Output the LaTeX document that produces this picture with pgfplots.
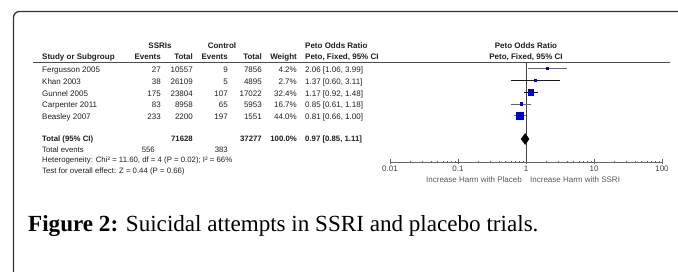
\documentclass[border=0pt]{standalone}
\usepackage{pgfplots}
\pgfplotsset{compat=1.18}
\usepackage{fontspec}
\newfontfamily\arial{Liberation Sans}
\newfontfamily\capserif{Liberation Serif}
\definecolor{sqblue}{RGB}{0,0,205}
\definecolor{txt}{RGB}{30,30,30}
\newcommand\fa{\arial\fontsize{8}{9}\selectfont}
\newcommand\fb{\arial\fontsize{7.8}{8.8}\selectfont}
\newcommand\fc{\arial\fontsize{8}{9}\selectfont}
\begin{document}
\begin{tikzpicture}[x=1pt,y=1pt]
\useasboundingbox (0,0) rectangle (678,-272);
\clip (0,0) rectangle (678,-272);
% frame
\draw[line width=1.3pt, black!80, rounded corners=6pt] (13.5,-290) -- (13.5,-11.5) -- (700,-11.5);
% header underline
\draw[black!70, line width=0.8pt] (33,-62.3) -- (670,-62.3);
% headers
\begin{scope}[every node/.style={inner sep=0pt, text=txt}]
\node[anchor=base, font=\fa\bfseries] at (160,-48.5) {SSRIs};
\node[anchor=base, font=\fa\bfseries] at (222,-48.5) {Control};
\node[anchor=base west, font=\fa\bfseries] at (305,-48.5) {Peto Odds Ratio};
\node[anchor=base, font=\fa\bfseries] at (526,-48.5) {Peto Odds Ratio};
\node[anchor=base west, font=\fa\bfseries] at (42,-60) {Study or Subgroup};
\node[anchor=base east, font=\fa\bfseries] at (161,-60) {Events};
\node[anchor=base east, font=\fa\bfseries] at (193,-60) {Total};
\node[anchor=base east, font=\fa\bfseries] at (228,-60) {Events};
\node[anchor=base east, font=\fa\bfseries] at (262,-60) {Total};
\node[anchor=base east, font=\fa\bfseries] at (297,-60) {Weight};
\node[anchor=base west, font=\fa\bfseries] at (305,-60) {Peto, Fixed, 95\% CI};
\node[anchor=base, font=\fa\bfseries] at (526,-60) {Peto, Fixed, 95\% CI};
% rows
\foreach \yy/\nm/\ea/\ta/\eb/\tb/\w/\ci in {
 72.8/Fergusson 2005/27/10557/9/7856/4.2\%/{2.06 [1.06, 3.99]},
 84.5/Khan 2003/38/26109/5/4895/2.7\%/{1.37 [0.60, 3.11]},
 96.2/Gunnel 2005/175/23804/107/17022/32.4\%/{1.17 [0.92, 1.48]},
 107.9/Carpenter 2011/83/8958/65/5953/16.7\%/{0.85 [0.61, 1.18]},
 119.6/Beasley 2007/233/2200/197/1551/44.0\%/{0.81 [0.66, 1.00]}}{
 \node[anchor=base west, font=\fa] at (42,-\yy) {\nm};
 \node[anchor=base east, font=\fa] at (161,-\yy) {\ea};
 \node[anchor=base east, font=\fa] at (193,-\yy) {\ta};
 \node[anchor=base east, font=\fa] at (228,-\yy) {\eb};
 \node[anchor=base east, font=\fa] at (262,-\yy) {\tb};
 \node[anchor=base east, font=\fa] at (297,-\yy) {\w};
 \node[anchor=base west, font=\fa] at (305,-\yy) {\ci};
}
\node[anchor=base west, font=\fb\bfseries] at (42,-142) {Total (95\% CI)};
\node[anchor=base east, font=\fb\bfseries] at (193,-142) {71628};
\node[anchor=base east, font=\fb\bfseries] at (262,-142) {37277};
\node[anchor=base east, font=\fb\bfseries] at (297,-142) {100.0\%};
\node[anchor=base west, font=\fb\bfseries] at (305,-142) {0.97 [0.85, 1.11]};
\node[anchor=base west, font=\fb] at (42,-152.5) {Total events};
\node[anchor=base east, font=\fb] at (155,-152.5) {556};
\node[anchor=base east, font=\fb] at (228,-152.5) {383};
\node[anchor=base west, font=\fb] at (42,-163) {Heterogeneity: Chi² = 11.60, df = 4 (P = 0.02); I² = 66\%};
\node[anchor=base west, font=\fb] at (42,-173.5) {Test for overall effect: Z = 0.44 (P = 0.66)};
\node[anchor=base east, font=\fc, text=black!65] at (522,-182.5) {Increase Harm with Placeb};
\node[anchor=base west, font=\fc, text=black!65] at (530,-182.5) {Increase Harm with SSRI};
% caption
\node[anchor=base west, font=\capserif\fontsize{23.1}{26}\selectfont, text=black] at (28,-232) {\textbf{Figure 2:} Suicidal attempts in SSRI and placebo trials.};
\end{scope}
\begin{axis}[
  at={(390pt,-162pt)}, anchor=south west,
  scale only axis, width=272pt, height=100pt,
  xmode=log, xmin=0.01, xmax=100, ymin=-162, ymax=-62,
  axis x line=bottom, axis y line=none,
  axis line style={-, black!60, line width=0.7pt},
  xtick={0.01,0.1,1,10,100}, xticklabels={0.01,0.1,1,10,100},
  minor xtick={},
  major tick length=5pt, tick align=center,
  tick style={black!60, line width=0.7pt},
  xticklabel style={font=\fc, text=black!75, inner sep=1pt},
  clip=false,
]
\addplot[black!75, line width=0.8pt] coordinates {(1,-62.3) (1,-162)};
% confidence intervals
\addplot[black!60, line width=0.7pt] coordinates {(1.06,-68.3) (3.99,-68.3)};
\addplot[black!90, line width=0.7pt] coordinates {(0.60,-80.3) (3.11,-80.3)};
\addplot[black!90, line width=0.7pt] coordinates {(0.92,-92) (1.48,-92)};
\addplot[black!60, line width=0.7pt] coordinates {(0.61,-104) (1.18,-104)};
\addplot[black!60, line width=0.7pt] coordinates {(0.66,-115.7) (1.00,-115.7)};
% squares
\addplot[only marks, mark=square*, mark size=0.9pt, sqblue] coordinates {(2.06,-68.3)};
\addplot[only marks, mark=square*, mark size=0.7pt, sqblue] coordinates {(1.37,-80.3)};
\addplot[only marks, mark=square*, mark size=2.8pt, sqblue] coordinates {(1.17,-92)};
\addplot[only marks, mark=square*, mark size=1.4pt, sqblue] coordinates {(0.85,-104)};
\addplot[only marks, mark=square*, mark size=3.6pt, sqblue] coordinates {(0.81,-115.7)};
% diamond
\addplot[fill=black, draw=black, line width=0.4pt] coordinates {(0.85,-139) (0.97,-133.5) (1.11,-139) (0.97,-144.5)} -- cycle;
\end{axis}
\end{tikzpicture}
\end{document}
